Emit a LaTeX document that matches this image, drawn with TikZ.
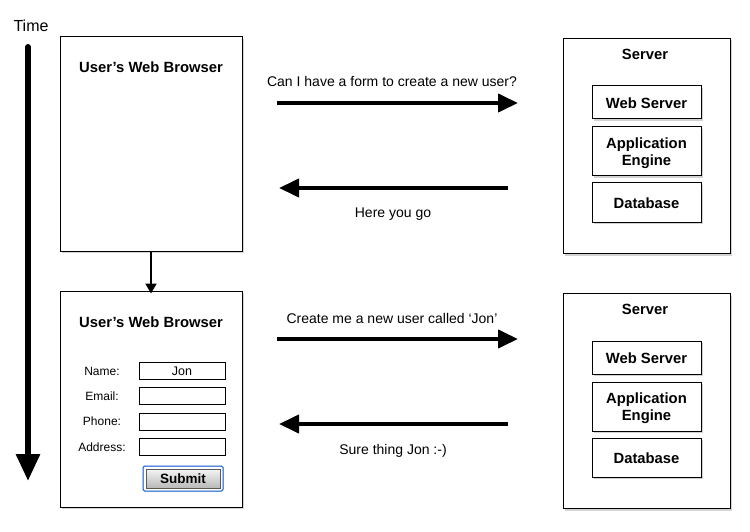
\documentclass[tikz,border=0pt]{standalone}
\usepackage{fontspec}
\setmainfont{Liberation Sans}
\usetikzlibrary{arrows.meta,shadows}
\begin{document}
\begin{tikzpicture}[x=1pt,y=-1pt,
  panel/.style={draw=black,line width=1pt,fill=white,drop shadow={shadow xshift=1.5pt,shadow yshift=-2pt,opacity=0.35}},
  comp/.style={draw=black,line width=1pt,fill=white,minimum width=109pt,align=center,font=\fontsize{14.8}{17}\selectfont\bfseries,drop shadow={shadow xshift=1.5pt,shadow yshift=-2pt,opacity=0.35}},
  comptext/.style={align=center,font=\fontsize{14.8}{17}\selectfont\bfseries},
  title/.style={font=\fontsize{14.8}{17}\selectfont\bfseries},
  msg/.style={font=\fontsize{14}{16}\selectfont},
  lbl/.style={font=\fontsize{12}{14}\selectfont},
  field/.style={draw=black,line width=1pt,minimum width=86pt,minimum height=17pt,inner sep=0pt,font=\fontsize{12.5}{14}\selectfont},
  bigarrow/.style={line width=4pt,-{Triangle[length=20pt,width=18pt]}},
  timearrow/.style={line width=6pt,line cap=round,-{Triangle[length=27pt,width=23pt]}},
]
\useasboundingbox (0,0) rectangle (750,532);

% time axis
\node[font=\fontsize{16}{18}\selectfont] (time) at (31,26) {Time};
\coordinate (t0) at (28,47);
\coordinate (t1) at (28,481);
\draw[timearrow] (t0) -- (t1);

% browser 1
\node[panel,minimum width=182pt,minimum height=214pt,inner sep=0pt] (b1) at (151,144) {};
\node[title] (b1t) at (151,67) {User’s Web Browser};

% browser 2
\node[panel,minimum width=182pt,minimum height=216pt,inner sep=0pt] (b2) at (151,399) {};
\node[title] (b2t) at (151,322) {User’s Web Browser};
\draw[line width=2pt,-{Triangle[length=10pt,width=11pt]}] (b1.south) -- ([yshift=-3pt]b2.north);

% form
\node[lbl] (ln) at (102,371) {Name:};
\node[lbl] (le) at (102,396) {Email:};
\node[lbl] (lp) at (102,421) {Phone:};
\node[lbl] (la) at (102,447) {Address:};
\node[field] (fn) at (182,370.5) {};
\node[font=\fontsize{12.5}{14}\selectfont] (fnt) at (182,371.5) {Jon};
\node[field] (fe) at (182,395.5) {};
\node[field] (fp) at (182,421.5) {};
\node[field] (fa) at (182,446.5) {};
\node[draw=blue!60!cyan!80!black,line width=1pt,rounded corners=1.5pt,minimum width=80pt,minimum height=25pt,inner sep=0pt] (sbo) at (183,478.5) {};
\node[draw=gray!70!black,line width=0.6pt,top color=gray!8,bottom color=gray!55,minimum width=74pt,minimum height=19pt,inner sep=0pt,font=\fontsize{13.5}{15}\selectfont\bfseries] (sb) at (183,478.5) {Submit};

% server 1
\node[panel,minimum width=167pt,minimum height=215pt,inner sep=0pt] (s1) at (646.5,146) {};
\node[title] (s1t) at (645,54) {Server};
\node[comp,minimum height=33pt] (ws1) at (646.5,102.5) {};
\node[comptext] (ws1t) at (646.5,103.5) {Web Server};
\node[comp,minimum height=49pt] (ae1) at (646.5,151.5) {};
\node[comptext] (ae1t) at (646.5,153.5) {Application\\Engine};
\node[comp,minimum height=39pt] (db1) at (646.5,202.5) {};
\node[comptext] (db1t) at (646.5,203.5) {Database};

% server 2
\node[panel,minimum width=167pt,minimum height=215pt,inner sep=0pt] (s2) at (646.5,401) {};
\node[title] (s2t) at (645,309) {Server};
\node[comp,minimum height=33pt] (ws2) at (646.5,357.5) {};
\node[comptext] (ws2t) at (646.5,358.5) {Web Server};
\node[comp,minimum height=49pt] (ae2) at (646.5,406.5) {};
\node[comptext] (ae2t) at (646.5,408.5) {Application\\Engine};
\node[comp,minimum height=39pt] (db2) at (646.5,457.5) {};
\node[comptext] (db2t) at (646.5,458.5) {Database};

% messages
\coordinate (a1s) at (277,103);
\coordinate (a1e) at (518,103);
\draw[bigarrow] (a1s) -- (a1e);
\node[msg] (m1) at (392,81) {Can I have a form to create a new user?};
\coordinate (a2s) at (508,188);
\coordinate (a2e) at (279,188);
\draw[bigarrow] (a2s) -- (a2e);
\node[msg] (m2) at (393,214) {Here you go};

\coordinate (a3s) at (277,339);
\coordinate (a3e) at (518,339);
\draw[bigarrow] (a3s) -- (a3e);
\node[msg] (m3) at (392,318) {Create me a new user called ‘Jon’};
\coordinate (a4s) at (508,424);
\coordinate (a4e) at (279,424);
\draw[bigarrow] (a4s) -- (a4e);
\node[msg] (m4) at (393,451) {Sure thing Jon :-)};
\end{tikzpicture}
\end{document}
